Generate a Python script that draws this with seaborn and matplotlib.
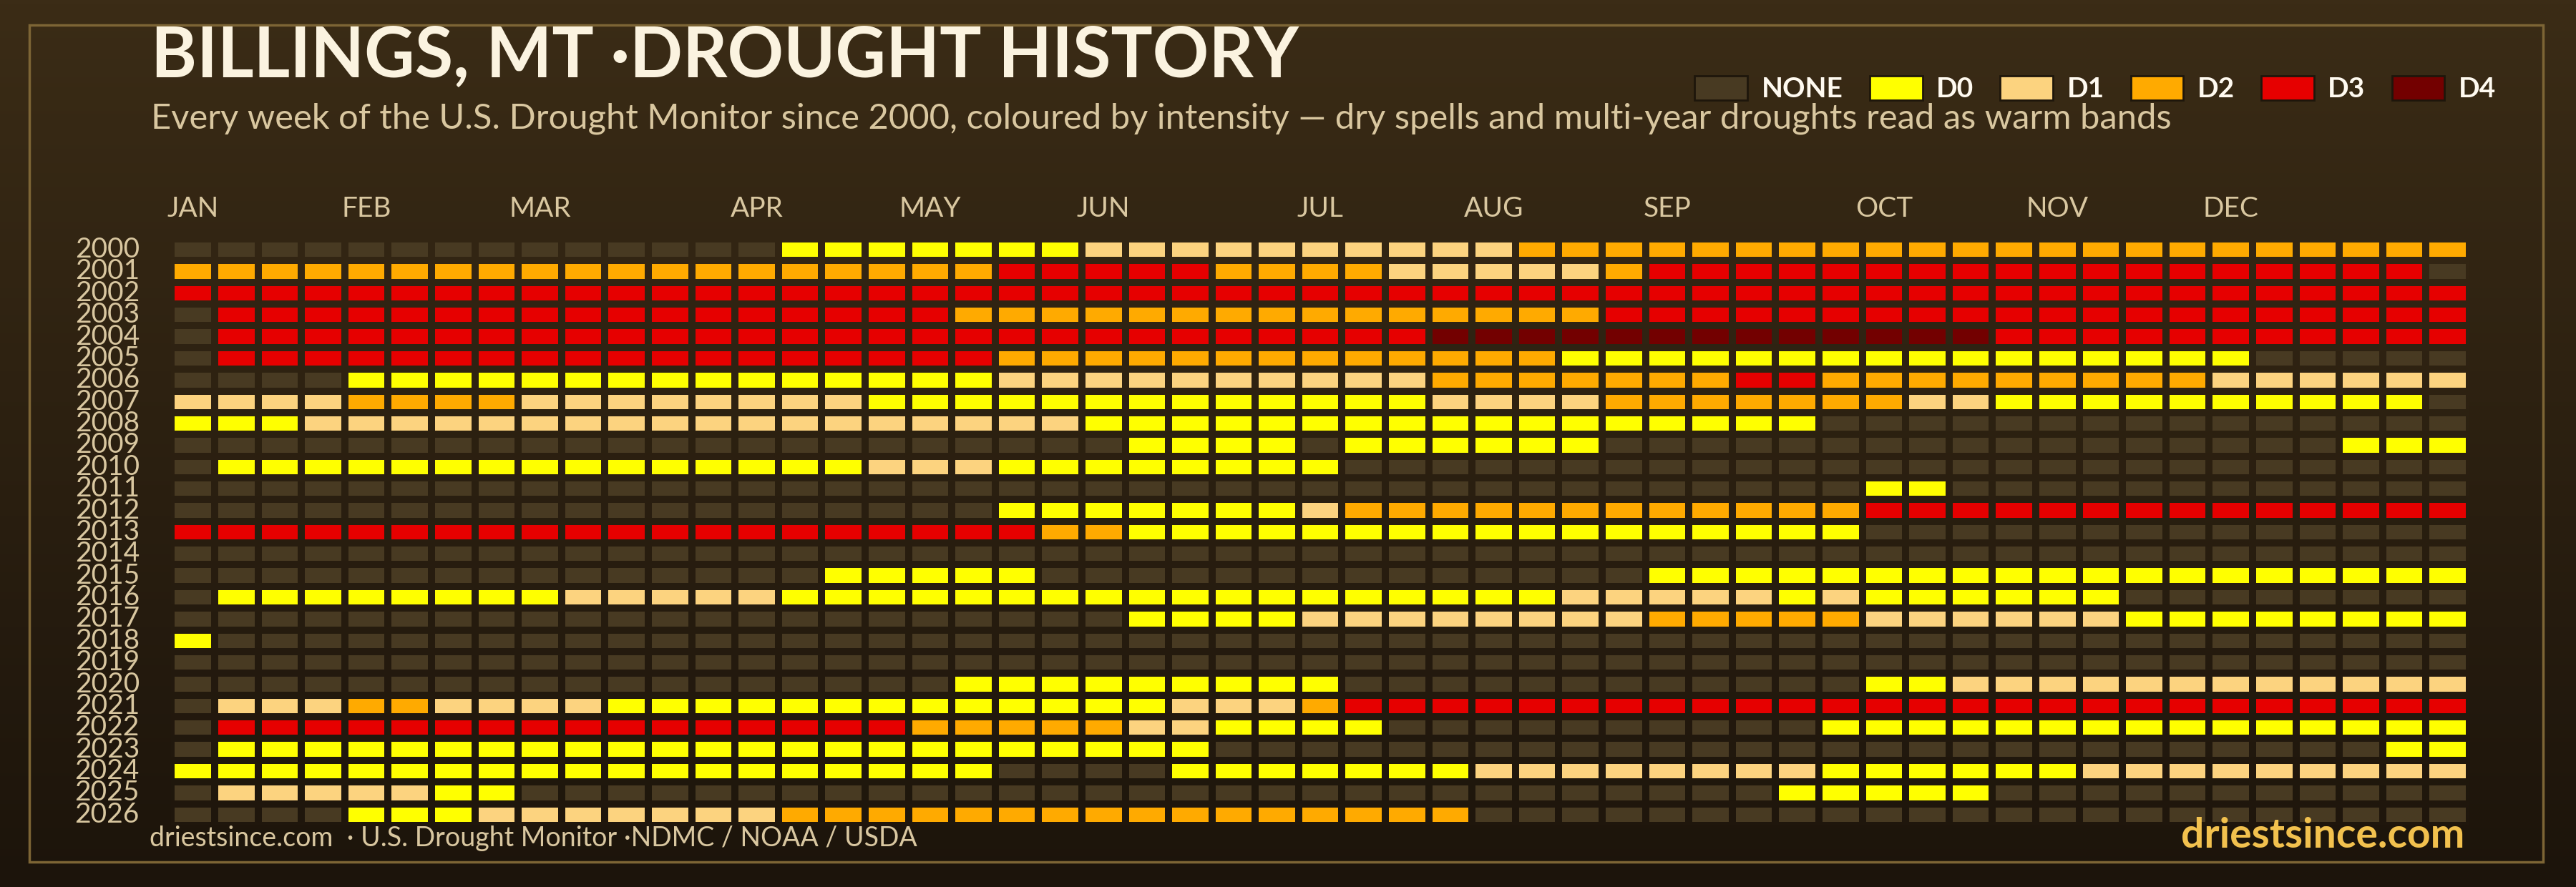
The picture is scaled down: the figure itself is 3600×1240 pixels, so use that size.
import numpy as np
import pandas as pd
import matplotlib.pyplot as plt
import seaborn as sns
from matplotlib.colors import ListedColormap, LinearSegmentedColormap, to_rgb
from matplotlib.patches import Patch, Rectangle


# one character per Drought Monitor week: '.' none, '0'..'4' = D0..D4
years = list(range(2000, 2027))
weeks = [
    ".......... ....000000 0111111111 1222222222 2222222222 222",  # 2000
    "2222222222 2222222223 3333222211 1112333333 3333333333 33.",  # 2001
    "3333333333 3333333333 3333333333 3333333333 3333333333 333",  # 2002
    ".333333333 3333333322 2222222222 2223333333 3333333333 333",  # 2003
    ".333333333 3333333333 3333333334 4444444444 4433333333 333",  # 2004
    ".333333333 3333333332 2222222222 2200000000 00000000.. ...",  # 2005
    "....000000 0000000001 1111111112 2222223322 2222222111 111",  # 2006
    "1111222211 1111110000 0000000001 1112222222 1100000000 00.",  # 2007
    "0001111111 1111111111 1000000000 00000000.. .......... ...",  # 2008
    ".......... .......... ..0000.000 000....... .......... 000",  # 2009
    ".000000000 0000001110 0000000... .......... .......... ...",  # 2010
    ".......... .......... .......... .........0 0......... ...",  # 2011
    ".......... .........0 0000001222 2222222223 3333333333 333",  # 2012
    "3333333333 3333333333 2200000000 000000000. .......... ...",  # 2013
    ".......... .......... .......... .......... .......... ...",  # 2014
    ".......... .....00000 .......... ....000000 0000000000 000",  # 2015
    ".000000001 1111000000 0000000000 0011111010 00000..... ...",  # 2016
    ".......... .......... ..00001111 1111222221 1111100000 000",  # 2017
    "0......... .......... .......... .......... .......... ...",  # 2018
    ".......... .......... .......... .......... .......... ...",  # 2019
    ".......... ........00 0000000... .........0 0111111111 111",  # 2020
    ".111221111 0000000000 0001112333 3333333333 3333333333 333",  # 2021
    ".333333333 3333333222 22110000.. ........00 0000000000 000",  # 2022
    ".000000000 0000000000 0000...... .......... .......... .00",  # 2023
    "0000000000 000000000. ...0000000 1111111100 0000111111 111",  # 2024
    ".1111100.. .......... .......... .......000 00........ ...",  # 2025
    "....000111 1111222222 2222222222 .......... .......... ...",  # 2026
]

levels = ["NONE", "D0", "D1", "D2", "D3", "D4"]
level_colors = ["#483a22", "#ffff00", "#fcd37f", "#ffaa00", "#e60000", "#730000"]
month_names = ["JAN", "FEB", "MAR", "APR", "MAY", "JUN",
               "JUL", "AUG", "SEP", "OCT", "NOV", "DEC"]
month_weeks = [0, 4, 8, 13, 17, 21, 26, 30, 34, 39, 43, 47]

code = {".": 0, "0": 1, "1": 2, "2": 3, "3": 4, "4": 5}
rows = [[code[c] for c in w.replace(" ", "")] for w in weeks]
for y, r in zip(years, rows):
    assert len(r) == 53, (y, len(r))
grid = pd.DataFrame(rows, index=years)

bg_top, bg_bottom = "#3b2c16", "#1c140b"
tan = "#d9c7a0"

plt.rcParams['font.family'] = ['Lato', 'DejaVu Sans']

fig = plt.figure(figsize=(36, 12.4), dpi=100)

# background gradient
bg = fig.add_axes([0, 0, 1, 1], zorder=-5)
bg.imshow(np.linspace(0, 1, 256)[:, None], aspect='auto', extent=[0, 1, 0, 1],
          cmap=LinearSegmentedColormap.from_list('bg', [bg_top, bg_bottom]))
bg.axis('off')

ax_top, ax_h = 0.7306, 0.6613
ax = fig.add_axes([0.0665, 0.0694, 0.8921, ax_h])
ax.patch.set_alpha(0)
sns.heatmap(grid, ax=ax, cmap=ListedColormap(level_colors), vmin=-0.5, vmax=5.5,
            cbar=False, linewidths=6, linecolor=bg_bottom,
            xticklabels=False, yticklabels=years)

# gap colour follows the background gradient row by row
c0, c1 = np.array(to_rgb(bg_top)), np.array(to_rgb(bg_bottom))
n_rows, n_cols = grid.shape
edge = []
for r in range(n_rows):
    t = 1 - (ax_top - (r + 0.5) / n_rows * ax_h)
    edge += [tuple(c0 + (c1 - c0) * t)] * n_cols
ax.collections[0].set_edgecolor(edge)

ax.xaxis.tick_top()
ax.set_xticks([w + 0.5 for w in month_weeks])
ax.set_xticklabels(month_names, fontsize=28, color=tan)
ax.set_yticklabels(years, fontsize=28, color=tan, rotation=0)
ax.tick_params(axis='x', length=0, pad=17)
ax.tick_params(axis='y', length=0, pad=32)
ax.set_xlabel('')
ax.set_ylabel('')
for s in ax.spines.values():
    s.set_visible(False)

fig.text(0.0586, 0.913, "BILLINGS, MT ·DROUGHT HISTORY", fontsize=70,
         weight='bold', color='#fbf3e0', va='baseline')
fig.text(0.0586, 0.855,
         "Every week of the U.S. Drought Monitor since 2000, coloured by intensity"
         " \u2014 dry spells and multi-year droughts read as warm bands",
         fontsize=35.2, color=tan, va='baseline')
fig.text(0.058, 0.046, "driestsince.com  \u00b7 U.S. Drought Monitor \u00b7NDMC / NOAA / USDA",
         fontsize=27, color=tan, va='baseline')
fig.text(0.9567, 0.044, "driestsince.com", fontsize=41, weight='bold',
         color='#f2c14e', va='baseline', ha='right')

handles = [Patch(facecolor=c, edgecolor='#1e160b', linewidth=2, label=l)
           for l, c in zip(levels, level_colors)]
fig.legend(handles=handles, ncol=6, loc='center right', bbox_to_anchor=(0.9786, 0.90),
           frameon=False, prop={'weight': 'bold', 'size': 28}, labelcolor='#fffaf0',
           handlelength=1.9, handleheight=1.0, handletextpad=0.5, columnspacing=0.95)

fig.patches.append(Rectangle((0.0114, 0.0282), 0.9758, 0.9435, transform=fig.transFigure,
                             fill=False, edgecolor='#7d6535', linewidth=2.5))

fig.savefig('out.png', dpi=100, facecolor=bg_bottom)
